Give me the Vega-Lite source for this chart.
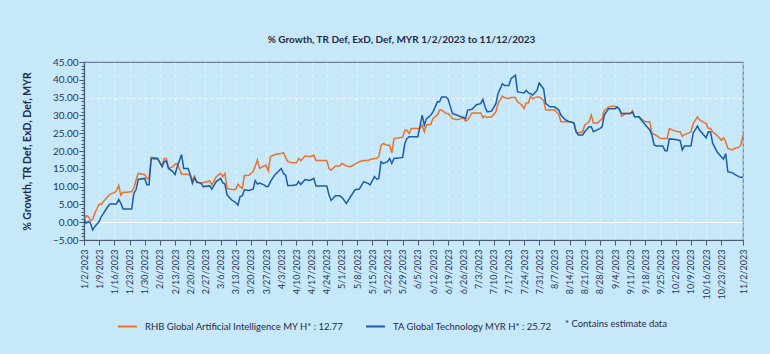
{
  "$schema": "https://vega.github.io/schema/vega-lite/v6.json",
  "width": 659,
  "height": 178,
  "autosize": "none",
  "padding": {"left": 84, "top": 62, "right": 27, "bottom": 114},
  "background": "#c6e8f8",
  "config": {"view": {"stroke": "#6e7d9c", "strokeWidth": 1.2, "fill": "#c6e8f8"}, "font": "Lato"},
  "title": {"text": "% Growth, TR Def, ExD, Def, MYR 1/2/2023 to 11/12/2023", "font": "Lato", "fontSize": 10, "fontWeight": "bold", "color": "#1f2a4a", "offset": 12, "dx": -12},
  "data": {"values": [
    {"d":"2023/01/02","RHB":0.5,"TA":1.0},
    {"d":"2023/01/03","RHB":1.8,"TA":-0.3},
    {"d":"2023/01/04","RHB":1.6,"TA":0.2},
    {"d":"2023/01/05","RHB":0.4,"TA":-0.3},
    {"d":"2023/01/06","RHB":0.8,"TA":-2.2},
    {"d":"2023/01/07","RHB":2.5,"TA":-1.2},
    {"d":"2023/01/09","RHB":5.1,"TA":0.2},
    {"d":"2023/01/10","RHB":5.0,"TA":1.6},
    {"d":"2023/01/11","RHB":5.8,"TA":2.5},
    {"d":"2023/01/13","RHB":7.2,"TA":4.4},
    {"d":"2023/01/14","RHB":7.9,"TA":5.1},
    {"d":"2023/01/16","RHB":8.3,"TA":5.1},
    {"d":"2023/01/17","RHB":8.8,"TA":5.1},
    {"d":"2023/01/18","RHB":10.3,"TA":6.4},
    {"d":"2023/01/19","RHB":7.6,"TA":5.3},
    {"d":"2023/01/20","RHB":8.4,"TA":3.7},
    {"d":"2023/01/22","RHB":8.4,"TA":3.7},
    {"d":"2023/01/24","RHB":8.6,"TA":3.7},
    {"d":"2023/01/25","RHB":9.6,"TA":8.1},
    {"d":"2023/01/26","RHB":11.8,"TA":9.1},
    {"d":"2023/01/27","RHB":13.7,"TA":12.0},
    {"d":"2023/01/30","RHB":13.4,"TA":12.3},
    {"d":"2023/01/31","RHB":12.3,"TA":10.5},
    {"d":"2023/02/01","RHB":12.3,"TA":10.5},
    {"d":"2023/02/02","RHB":18.2,"TA":17.9},
    {"d":"2023/02/03","RHB":17.7,"TA":18.1},
    {"d":"2023/02/05","RHB":17.7,"TA":17.9},
    {"d":"2023/02/07","RHB":15.8,"TA":15.6},
    {"d":"2023/02/08","RHB":17.9,"TA":17.0},
    {"d":"2023/02/09","RHB":17.9,"TA":17.2},
    {"d":"2023/02/10","RHB":15.1,"TA":15.1},
    {"d":"2023/02/12","RHB":15.6,"TA":14.2},
    {"d":"2023/02/13","RHB":16.3,"TA":13.4},
    {"d":"2023/02/14","RHB":16.5,"TA":15.6},
    {"d":"2023/02/16","RHB":13.5,"TA":19.0},
    {"d":"2023/02/17","RHB":13.5,"TA":15.1},
    {"d":"2023/02/19","RHB":13.5,"TA":15.1},
    {"d":"2023/02/20","RHB":13.0,"TA":13.4},
    {"d":"2023/02/21","RHB":11.8,"TA":10.9},
    {"d":"2023/02/22","RHB":13.0,"TA":12.5},
    {"d":"2023/02/23","RHB":11.1,"TA":11.4},
    {"d":"2023/02/25","RHB":11.1,"TA":10.9},
    {"d":"2023/02/26","RHB":11.1,"TA":10.0},
    {"d":"2023/03/01","RHB":11.6,"TA":10.2},
    {"d":"2023/03/02","RHB":10.5,"TA":9.3},
    {"d":"2023/03/04","RHB":12.8,"TA":11.4},
    {"d":"2023/03/06","RHB":13.7,"TA":12.3},
    {"d":"2023/03/07","RHB":12.8,"TA":11.1},
    {"d":"2023/03/08","RHB":13.7,"TA":10.7},
    {"d":"2023/03/09","RHB":9.5,"TA":7.7},
    {"d":"2023/03/11","RHB":9.2,"TA":6.3},
    {"d":"2023/03/13","RHB":9.2,"TA":5.5},
    {"d":"2023/03/14","RHB":10.7,"TA":4.8},
    {"d":"2023/03/15","RHB":10.0,"TA":7.2},
    {"d":"2023/03/16","RHB":9.5,"TA":7.4},
    {"d":"2023/03/17","RHB":13.1,"TA":9.1},
    {"d":"2023/03/19","RHB":13.2,"TA":8.9},
    {"d":"2023/03/21","RHB":14.2,"TA":9.3},
    {"d":"2023/03/22","RHB":15.8,"TA":11.7},
    {"d":"2023/03/23","RHB":17.5,"TA":10.7},
    {"d":"2023/03/24","RHB":15.1,"TA":11.0},
    {"d":"2023/03/26","RHB":15.8,"TA":10.5},
    {"d":"2023/03/27","RHB":16.0,"TA":10.0},
    {"d":"2023/03/28","RHB":14.4,"TA":10.0},
    {"d":"2023/03/29","RHB":18.4,"TA":11.4},
    {"d":"2023/03/31","RHB":19.0,"TA":13.3},
    {"d":"2023/04/03","RHB":19.3,"TA":15.1},
    {"d":"2023/04/04","RHB":19.5,"TA":13.7},
    {"d":"2023/04/05","RHB":18.2,"TA":13.2},
    {"d":"2023/04/06","RHB":17.0,"TA":10.3},
    {"d":"2023/04/08","RHB":16.7,"TA":10.3},
    {"d":"2023/04/10","RHB":16.7,"TA":10.5},
    {"d":"2023/04/11","RHB":17.9,"TA":11.4},
    {"d":"2023/04/12","RHB":17.3,"TA":10.6},
    {"d":"2023/04/14","RHB":18.6,"TA":12.0},
    {"d":"2023/04/16","RHB":18.4,"TA":11.7},
    {"d":"2023/04/17","RHB":18.6,"TA":12.0},
    {"d":"2023/04/18","RHB":18.8,"TA":12.3},
    {"d":"2023/04/19","RHB":17.3,"TA":10.2},
    {"d":"2023/04/22","RHB":17.3,"TA":10.2},
    {"d":"2023/04/24","RHB":17.3,"TA":10.2},
    {"d":"2023/04/25","RHB":15.1,"TA":7.7},
    {"d":"2023/04/26","RHB":14.6,"TA":6.1},
    {"d":"2023/04/28","RHB":15.8,"TA":7.4},
    {"d":"2023/04/30","RHB":15.8,"TA":7.4},
    {"d":"2023/05/01","RHB":16.5,"TA":7.0},
    {"d":"2023/05/03","RHB":15.8,"TA":5.3},
    {"d":"2023/05/05","RHB":15.6,"TA":7.2},
    {"d":"2023/05/07","RHB":16.3,"TA":9.1},
    {"d":"2023/05/09","RHB":17.0,"TA":9.3},
    {"d":"2023/05/11","RHB":17.3,"TA":11.4},
    {"d":"2023/05/13","RHB":17.3,"TA":10.9},
    {"d":"2023/05/14","RHB":17.6,"TA":10.5},
    {"d":"2023/05/16","RHB":17.9,"TA":12.8},
    {"d":"2023/05/17","RHB":17.9,"TA":12.1},
    {"d":"2023/05/18","RHB":18.4,"TA":12.3},
    {"d":"2023/05/19","RHB":21.6,"TA":17.0},
    {"d":"2023/05/20","RHB":22.1,"TA":16.5},
    {"d":"2023/05/22","RHB":21.6,"TA":17.0},
    {"d":"2023/05/23","RHB":21.6,"TA":17.9},
    {"d":"2023/05/24","RHB":19.5,"TA":16.5},
    {"d":"2023/05/25","RHB":23.5,"TA":17.9},
    {"d":"2023/05/28","RHB":23.8,"TA":18.1},
    {"d":"2023/05/29","RHB":23.8,"TA":18.2},
    {"d":"2023/05/30","RHB":25.8,"TA":22.1},
    {"d":"2023/05/31","RHB":25.8,"TA":23.5},
    {"d":"2023/06/01","RHB":24.9,"TA":24.0},
    {"d":"2023/06/02","RHB":26.3,"TA":24.0},
    {"d":"2023/06/04","RHB":26.3,"TA":24.0},
    {"d":"2023/06/05","RHB":26.3,"TA":24.0},
    {"d":"2023/06/06","RHB":26.3,"TA":27.0},
    {"d":"2023/06/07","RHB":27.3,"TA":30.1},
    {"d":"2023/06/08","RHB":25.4,"TA":27.3},
    {"d":"2023/06/09","RHB":27.3,"TA":29.1},
    {"d":"2023/06/11","RHB":27.5,"TA":30.1},
    {"d":"2023/06/12","RHB":29.1,"TA":31.0},
    {"d":"2023/06/14","RHB":30.1,"TA":33.8},
    {"d":"2023/06/15","RHB":31.5,"TA":33.8},
    {"d":"2023/06/16","RHB":31.5,"TA":35.2},
    {"d":"2023/06/18","RHB":30.5,"TA":35.2},
    {"d":"2023/06/19","RHB":30.5,"TA":34.5},
    {"d":"2023/06/21","RHB":29.1,"TA":30.5},
    {"d":"2023/06/23","RHB":28.8,"TA":30.1},
    {"d":"2023/06/25","RHB":29.1,"TA":29.6},
    {"d":"2023/06/26","RHB":29.4,"TA":29.4},
    {"d":"2023/06/27","RHB":28.4,"TA":29.1},
    {"d":"2023/06/28","RHB":28.7,"TA":31.5},
    {"d":"2023/06/30","RHB":30.7,"TA":31.7},
    {"d":"2023/07/02","RHB":30.7,"TA":33.0},
    {"d":"2023/07/04","RHB":30.7,"TA":33.3},
    {"d":"2023/07/05","RHB":29.4,"TA":34.5},
    {"d":"2023/07/06","RHB":29.8,"TA":32.4},
    {"d":"2023/07/07","RHB":29.4,"TA":31.0},
    {"d":"2023/07/09","RHB":29.6,"TA":31.2},
    {"d":"2023/07/11","RHB":31.0,"TA":33.3},
    {"d":"2023/07/12","RHB":33.3,"TA":36.1},
    {"d":"2023/07/14","RHB":35.4,"TA":38.9},
    {"d":"2023/07/15","RHB":35.0,"TA":38.4},
    {"d":"2023/07/17","RHB":34.7,"TA":38.4},
    {"d":"2023/07/18","RHB":35.0,"TA":40.3},
    {"d":"2023/07/20","RHB":35.0,"TA":41.3},
    {"d":"2023/07/21","RHB":33.8,"TA":36.6},
    {"d":"2023/07/23","RHB":32.9,"TA":36.4},
    {"d":"2023/07/24","RHB":31.9,"TA":36.3},
    {"d":"2023/07/25","RHB":33.5,"TA":37.0},
    {"d":"2023/07/26","RHB":33.5,"TA":36.3},
    {"d":"2023/07/27","RHB":35.4,"TA":36.1},
    {"d":"2023/07/28","RHB":34.7,"TA":35.7},
    {"d":"2023/07/30","RHB":35.2,"TA":37.0},
    {"d":"2023/07/31","RHB":35.2,"TA":39.1},
    {"d":"2023/08/02","RHB":34.3,"TA":37.5},
    {"d":"2023/08/03","RHB":31.5,"TA":33.3},
    {"d":"2023/08/05","RHB":31.5,"TA":32.4},
    {"d":"2023/08/07","RHB":31.5,"TA":32.4},
    {"d":"2023/08/09","RHB":30.3,"TA":31.5},
    {"d":"2023/08/10","RHB":28.2,"TA":30.1},
    {"d":"2023/08/12","RHB":28.2,"TA":28.8},
    {"d":"2023/08/14","RHB":28.2,"TA":28.2},
    {"d":"2023/08/16","RHB":27.9,"TA":27.9},
    {"d":"2023/08/17","RHB":25.4,"TA":25.4},
    {"d":"2023/08/18","RHB":25.1,"TA":24.5},
    {"d":"2023/08/20","RHB":25.4,"TA":24.5},
    {"d":"2023/08/21","RHB":27.3,"TA":25.4},
    {"d":"2023/08/23","RHB":28.2,"TA":26.8},
    {"d":"2023/08/24","RHB":30.1,"TA":26.8},
    {"d":"2023/08/25","RHB":27.9,"TA":25.4},
    {"d":"2023/08/27","RHB":27.9,"TA":26.0},
    {"d":"2023/08/28","RHB":28.5,"TA":26.3},
    {"d":"2023/08/29","RHB":29.1,"TA":26.8},
    {"d":"2023/08/30","RHB":31.3,"TA":30.1},
    {"d":"2023/09/01","RHB":32.4,"TA":31.9},
    {"d":"2023/09/03","RHB":32.6,"TA":31.9},
    {"d":"2023/09/04","RHB":32.6,"TA":31.9},
    {"d":"2023/09/05","RHB":32.2,"TA":32.4},
    {"d":"2023/09/06","RHB":31.7,"TA":31.7},
    {"d":"2023/09/07","RHB":29.8,"TA":30.5},
    {"d":"2023/09/09","RHB":30.5,"TA":30.5},
    {"d":"2023/09/11","RHB":30.5,"TA":30.5},
    {"d":"2023/09/12","RHB":31.3,"TA":31.0},
    {"d":"2023/09/13","RHB":29.6,"TA":29.6},
    {"d":"2023/09/15","RHB":29.6,"TA":29.6},
    {"d":"2023/09/16","RHB":29.1,"TA":28.8},
    {"d":"2023/09/18","RHB":28.2,"TA":27.3},
    {"d":"2023/09/20","RHB":28.2,"TA":25.9},
    {"d":"2023/09/21","RHB":24.9,"TA":24.5},
    {"d":"2023/09/22","RHB":24.7,"TA":21.7},
    {"d":"2023/09/23","RHB":24.4,"TA":21.4},
    {"d":"2023/09/25","RHB":23.5,"TA":21.4},
    {"d":"2023/09/26","RHB":23.5,"TA":21.4},
    {"d":"2023/09/27","RHB":23.5,"TA":20.1},
    {"d":"2023/09/28","RHB":23.5,"TA":20.1},
    {"d":"2023/09/29","RHB":26.3,"TA":23.4},
    {"d":"2023/10/01","RHB":25.8,"TA":23.3},
    {"d":"2023/10/03","RHB":25.4,"TA":23.1},
    {"d":"2023/10/04","RHB":25.4,"TA":22.9},
    {"d":"2023/10/05","RHB":24.1,"TA":20.3},
    {"d":"2023/10/06","RHB":24.6,"TA":21.4},
    {"d":"2023/10/08","RHB":25.1,"TA":21.4},
    {"d":"2023/10/09","RHB":25.4,"TA":21.4},
    {"d":"2023/10/10","RHB":27.7,"TA":25.0},
    {"d":"2023/10/12","RHB":29.6,"TA":27.0},
    {"d":"2023/10/13","RHB":28.7,"TA":25.8},
    {"d":"2023/10/16","RHB":27.7,"TA":23.7},
    {"d":"2023/10/17","RHB":26.3,"TA":25.4},
    {"d":"2023/10/18","RHB":26.3,"TA":25.4},
    {"d":"2023/10/19","RHB":25.4,"TA":22.2},
    {"d":"2023/10/21","RHB":24.4,"TA":19.8},
    {"d":"2023/10/23","RHB":23.0,"TA":18.4},
    {"d":"2023/10/24","RHB":23.7,"TA":17.7},
    {"d":"2023/10/25","RHB":22.6,"TA":19.3},
    {"d":"2023/10/26","RHB":20.7,"TA":14.2},
    {"d":"2023/10/28","RHB":20.3,"TA":13.9},
    {"d":"2023/10/29","RHB":20.7,"TA":13.5},
    {"d":"2023/10/31","RHB":21.0,"TA":12.8},
    {"d":"2023/11/01","RHB":21.7,"TA":12.6},
    {"d":"2023/11/02","RHB":24.5,"TA":12.6}
  ]},
  "transform": [{"fold": ["RHB", "TA"], "as": ["s", "v"]}],
  "mark": {"type": "line", "strokeWidth": 1.5},
  "encoding": {
    "x": {
      "field": "d", "type": "temporal",
      "scale": {"domain": [{"year": 2023, "month": 1, "date": 2}, {"year": 2023, "month": 11, "date": 2}]},
      "axis": {
        "title": null,
        "values": [
          {"year":2023,"month":1,"date":2},{"year":2023,"month":1,"date":9},{"year":2023,"month":1,"date":16},{"year":2023,"month":1,"date":23},{"year":2023,"month":1,"date":30},
          {"year":2023,"month":2,"date":6},{"year":2023,"month":2,"date":13},{"year":2023,"month":2,"date":20},{"year":2023,"month":2,"date":27},
          {"year":2023,"month":3,"date":6},{"year":2023,"month":3,"date":13},{"year":2023,"month":3,"date":20},{"year":2023,"month":3,"date":27},
          {"year":2023,"month":4,"date":3},{"year":2023,"month":4,"date":10},{"year":2023,"month":4,"date":17},{"year":2023,"month":4,"date":24},
          {"year":2023,"month":5,"date":1},{"year":2023,"month":5,"date":8},{"year":2023,"month":5,"date":15},{"year":2023,"month":5,"date":22},{"year":2023,"month":5,"date":29},
          {"year":2023,"month":6,"date":5},{"year":2023,"month":6,"date":12},{"year":2023,"month":6,"date":19},{"year":2023,"month":6,"date":26},
          {"year":2023,"month":7,"date":3},{"year":2023,"month":7,"date":10},{"year":2023,"month":7,"date":17},{"year":2023,"month":7,"date":24},{"year":2023,"month":7,"date":31},
          {"year":2023,"month":8,"date":7},{"year":2023,"month":8,"date":14},{"year":2023,"month":8,"date":21},{"year":2023,"month":8,"date":28},
          {"year":2023,"month":9,"date":4},{"year":2023,"month":9,"date":11},{"year":2023,"month":9,"date":18},{"year":2023,"month":9,"date":25},
          {"year":2023,"month":10,"date":2},{"year":2023,"month":10,"date":9},{"year":2023,"month":10,"date":16},{"year":2023,"month":10,"date":23},
          {"year":2023,"month":11,"date":2}
        ],
        "format": "%-m/%-d/%Y",
        "labelAngle": 270,
        "labelFont": "Lato",
        "labelFontSize": 9,
        "labelColor": "#2a3556",
        "labelOverlap": false,
        "labelFlush": false,
        "labelPadding": 4,
        "tickSize": 5,
        "tickColor": "#4b5876",
        "domainColor": "#4b5876",
        "domainWidth": 1.2,
        "grid": true,
        "gridColor": "#ffffff",
        "gridDash": [3, 3],
        "gridOpacity": 0.5
      }
    },
    "y": {
      "field": "v", "type": "quantitative",
      "scale": {"domain": [-5, 45], "nice": false, "zero": false},
      "axis": {
        "title": "% Growth, TR Def, ExD, Def, MYR",
        "titleFont": "Lato",
        "titleFontSize": 10.5,
        "titleFontWeight": "bold",
        "titleColor": "#1f2a4a",
        "titlePadding": 20,
        "values": [-5,-4,-3,-2,-1,0,1,2,3,4,5,6,7,8,9,10,11,12,13,14,15,16,17,18,19,20,21,22,23,24,25,26,27,28,29,30,31,32,33,34,35,36,37,38,39,40,41,42,43,44,45],
        "labelExpr": "datum.value % 5 === 0 ? format(datum.value, '.2f') : ''",
        "labelOverlap": false,
        "labelFont": "Lato",
        "labelFontSize": 10,
        "labelColor": "#2a3556",
        "labelPadding": 1,
        "tickSize": {"condition": {"test": "datum.value % 5 === 0", "value": 5}, "value": 3},
        "tickColor": "#4b5876",
        "domainColor": "#4b5876",
        "domainWidth": 1.2,
        "grid": true,
        "gridColor": "#ffffff",
        "gridOpacity": {"condition": {"test": "datum.value === 0 || datum.value === 35", "value": 0.9}, "value": 0},
        "gridDash": {"condition": {"test": "datum.value === 35", "value": [3, 3]}, "value": []}
      }
    },
    "color": {
      "field": "s", "type": "nominal",
      "scale": {"domain": ["RHB", "TA"], "range": ["#e8722e", "#1b5ca8"]},
      "legend": {
        "orient": "none",
        "legendX": 33,
        "legendY": 254,
        "direction": "horizontal",
        "symbolType": "stroke",
        "symbolSize": 360,
        "symbolStrokeWidth": 2,
        "labelExpr": "datum.label === 'RHB' ? 'RHB Global Artificial Intelligence MY H* : 12.77' : 'TA Global Technology MYR H* : 25.72'",
        "labelFont": "Lato",
        "labelFontSize": 9.5,
        "labelColor": "#1f2a4a",
        "labelLimit": 400,
        "labelOffset": 7,
        "columnPadding": 18,
        "title": "* Contains estimate data",
        "titleOrient": "right",
        "titleFont": "Lato",
        "titleFontSize": 9.5,
        "titleFontWeight": "normal",
        "titleColor": "#1f2a4a",
        "titlePadding": 13,
        "titleBaseline": "middle"
      }
    }
  }
}
